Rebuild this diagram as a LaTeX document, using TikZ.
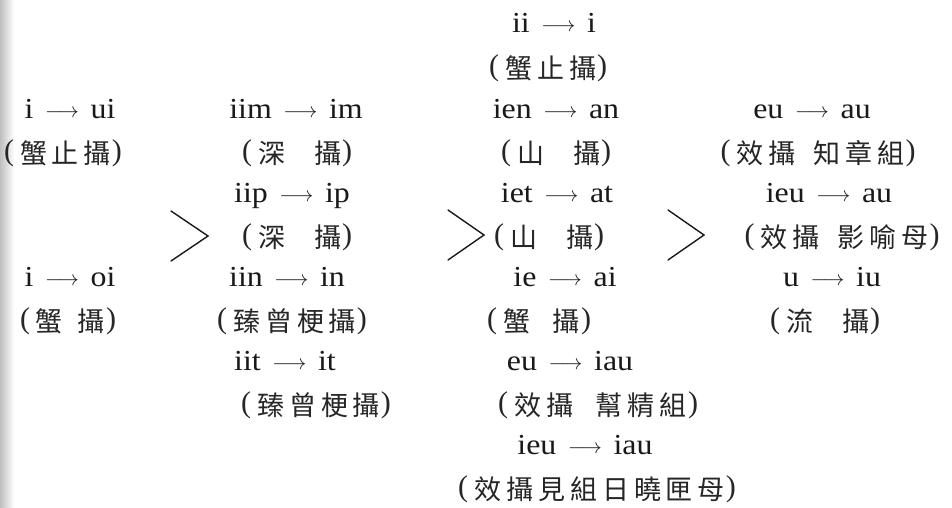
\RequirePackage{fix-cm}
\documentclass[tikz,border=0pt]{standalone}
\usepackage{fontspec}
\setmainfont{Liberation Serif}
\newfontfamily\latfamily[FakeStretch=1.1]{Liberation Serif}
\newfontfamily\parfamily{Liberation Serif}
\newfontfamily\cjkfamily[LetterSpace=18.5]{Noto Sans CJK TC}
\newcommand\latfont{\latfamily\fontsize{29}{29}\selectfont}
\newcommand\cjkfont{\cjkfamily\fontsize{27}{27}\selectfont}
\newcommand\arw{\hspace{0.4em}\raisebox{1pt}{\resizebox{34pt}{!}{$\longrightarrow$}}\hspace{0.4em}}
\newcommand\gapw[1]{\hspace{#1pt}}
\newcommand\lp{{\parfamily\fontsize{30}{30}\selectfont\raisebox{2.5pt}{(}}\hspace{6pt}}
\newcommand\rp{\hspace{1pt}{\parfamily\fontsize{30}{30}\selectfont\raisebox{2.5pt}{)}}}
\tikzset{
  lat/.style={font=\latfont, anchor=base, inner sep=0pt, text=black!90},
  cjk/.style={font=\cjkfont, anchor=base, inner sep=0pt, text=black!85},
  chev/.style={draw=black!90, line width=1.4pt, line cap=round, line join=miter}
}
\begin{document}
\begin{tikzpicture}[x=1pt,y=-1pt]
\useasboundingbox (0,0) rectangle (952,507);
\fill[white] (0,0) rectangle (952,507);
\shade[left color=black!25, right color=white] (0,0) rectangle (14,507);
% column 1
\node[lat] (a1) at (70,118) {i\arw ui};
\node[cjk] (a2) at (63,163) {\lp 蟹止攝\rp};
\node[lat] (a3) at (70,286) {i\arw oi};
\node[cjk] (a4) at (68,331) {\lp 蟹\gapw{15}攝\rp};
% column 2
\node[lat] (b1) at (296,118) {iim\arw im};
\node[cjk] (b2) at (297,163) {\lp 深\gapw{29}攝\rp};
\node[lat] (b3) at (292,202) {iip\arw ip};
\node[cjk] (b4) at (297,247) {\lp 深\gapw{29}攝\rp};
\node[lat] (b5) at (287,286) {iin\arw in};
\node[cjk] (b6) at (292,331) {\lp 臻曾梗攝\rp};
\node[lat] (b7) at (285,370) {iit\arw it};
\node[cjk] (b8) at (316,415) {\lp 臻曾梗攝\rp};
% column 3
\node[lat] (c1) at (554,32) {ii\arw i};
\node[cjk] (c2) at (548,78) {\lp 蟹止攝\rp};
\node[lat] (c3) at (556,118) {ien\arw an};
\node[cjk] (c4) at (556,163) {\lp 山\gapw{29}攝\rp};
\node[lat] (c5) at (557,202) {iet\arw at};
\node[cjk] (c6) at (549,247) {\lp 山\gapw{29}攝\rp};
\node[lat] (c7) at (565,286) {ie\arw ai};
\node[cjk] (c8) at (539,331) {\lp 蟹\gapw{23}攝\rp};
\node[lat] (c9) at (570,370) {eu\arw iau};
\node[cjk] (c10) at (598,415) {\lp 效攝\gapw{23}幫精組\rp};
\node[lat] (c11) at (585,454) {ieu\arw iau};
\node[cjk] (c12) at (597,499) {\lp 效攝見組日曉匣母\rp};
% column 4
\node[lat] (d1) at (812,118) {eu\arw au};
\node[cjk] (d2) at (818,163) {\lp 效攝\gapw{18}知章組\rp};
\node[lat] (d3) at (829,202) {ieu\arw au};
\node[cjk] (d4) at (842,247) {\lp 效攝\gapw{18}影喻母\rp};
\node[lat] (d5) at (832,286) {u\arw iu};
\node[cjk] (d6) at (825,331) {\lp 流\gapw{29}攝\rp};
% chevrons
\draw[chev] (171,211) -- (208,236) -- (171,261);
\draw[chev] (448,210) -- (484,235) -- (448,260);
\draw[chev] (668,210) -- (704,235) -- (668,260);
\end{tikzpicture}
\end{document}
